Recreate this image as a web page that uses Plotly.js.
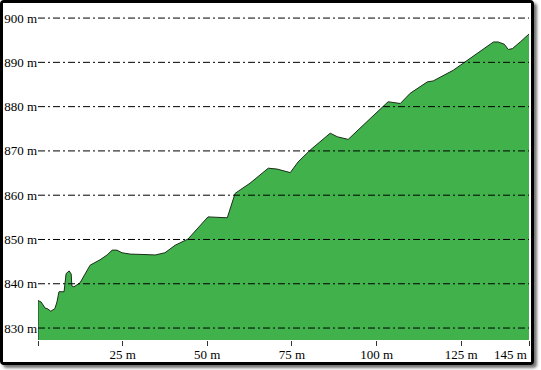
<!DOCTYPE html>
<html>
<head>
<meta charset="utf-8">
<script src="https://cdn.plot.ly/plotly-3.0.1.min.js"></script>
<style>
  html, body { margin: 0; padding: 0; background: #ffffff; width: 541px; height: 370px; overflow: hidden; }
  #frame {
    position: absolute; left: 0; top: 0;
    width: 528px; height: 359px;
    border: 3px solid #000;
    border-radius: 4px;
    box-shadow: 3px 3px 3px rgba(0,0,0,0.55);
    background: #fff;
  }
  #chart { width: 528px; height: 359px; }
</style>
</head>
<body>
<div id="frame"><div id="chart"></div></div>
<script>
// distance along the track (m)
var distance = [0, 0.9, 2.1, 2.7, 3.8, 5.0, 5.6, 6.2, 7.7, 8.3, 9.2, 9.8, 10.0, 10.6, 12.4, 15.4, 18.3, 20.4, 21.9, 23.3, 24.8, 27.2, 31.6, 34.6, 37.5, 40.5, 44.3, 50.2, 55.9, 57.4, 58.2, 59.7, 62.6, 68.0, 70.6, 74.5, 76.8, 80.4, 86.3, 88.4, 91.6, 98.1, 103.4, 107.0, 109.9, 115.0, 116.7, 122.6, 127.7, 134.5, 135.9, 137.7, 138.9, 140.1, 142.4, 145];
// elevation (m)
var elevation = [836.2, 835.9, 834.5, 834.4, 833.8, 834.4, 835.9, 838.2, 838.2, 842.3, 842.9, 842.2, 839.5, 839.3, 840.2, 844.2, 845.4, 846.5, 847.6, 847.6, 847.0, 846.7, 846.6, 846.5, 847.0, 848.7, 850.1, 855.1, 854.9, 858.4, 860.4, 861.2, 862.7, 866.1, 865.9, 865.1, 867.5, 870.2, 874.0, 873.2, 872.6, 877.3, 881.1, 880.7, 883.0, 885.6, 885.8, 888.2, 890.9, 894.6, 894.6, 894.1, 892.9, 893.1, 894.6, 896.4];

var xTickVals = [0, 25, 50, 75, 100, 125, 145];
var xTickText = ['', '25 m', '50 m', '75 m', '100 m', '125 m', ''];
var xEndLabel = '145 m';
var yTickVals = [830, 840, 850, 860, 870, 880, 890, 900];
var yTickText = ['830 m', '840 m', '850 m', '860 m', '870 m', '880 m', '890 m', '900 m'];

var serif = 'Liberation Serif';
var tf = { family: serif, size: 13, color: '#000' };

var trace = {
  x: distance,
  y: elevation,
  type: 'scatter',
  mode: 'lines',
  fill: 'tozeroy',
  fillcolor: '#41b14b',
  line: { color: '#1c2e1c', width: 1 },
  hoverinfo: 'skip'
};

var gridShapes = yTickVals.map(function (v) {
  return {
    type: 'line', xref: 'paper', yref: 'y',
    x0: 0, x1: 1, y0: v, y1: v,
    layer: 'above',
    line: { color: '#000', width: 1, dash: '7px,3px,2px,3px' }
  };
});
// dark left edge of the filled profile
gridShapes.push({
  type: 'line', xref: 'x', yref: 'y',
  x0: distance[0], x1: distance[0], y0: 827.3, y1: elevation[0],
  layer: 'above', line: { color: '#1c2e1c', width: 1 }
});

var layout = {
  width: 528, height: 359,
  margin: { l: 35, r: 2, t: 4, b: 22 },
  paper_bgcolor: '#ffffff',
  plot_bgcolor: '#ffffff',
  showlegend: false,
  font: tf,
  xaxis: {
    range: [0, 145],
    tickvals: xTickVals, ticktext: xTickText,
    tickfont: tf,
    ticks: 'outside', ticklen: 5, tickwidth: 1, tickcolor: '#333',
    ticklabelstandoff: -3,
    showgrid: false, zeroline: false, showline: false,
    fixedrange: true
  },
  yaxis: {
    range: [827.3, 902.5],
    tickvals: yTickVals, ticktext: yTickText,
    tickfont: tf,
    ticks: '', showgrid: false, zeroline: false, showline: false,
    fixedrange: true
  },
  annotations: [{
    x: 145, xref: 'x', xanchor: 'right',
    y: 0, yref: 'paper', yanchor: 'top', yshift: -5,
    text: xEndLabel, showarrow: false, font: tf
  }],
  shapes: gridShapes
};

Plotly.newPlot('chart', [trace], layout, { displayModeBar: false, staticPlot: true });
</script>
</body>
</html>
